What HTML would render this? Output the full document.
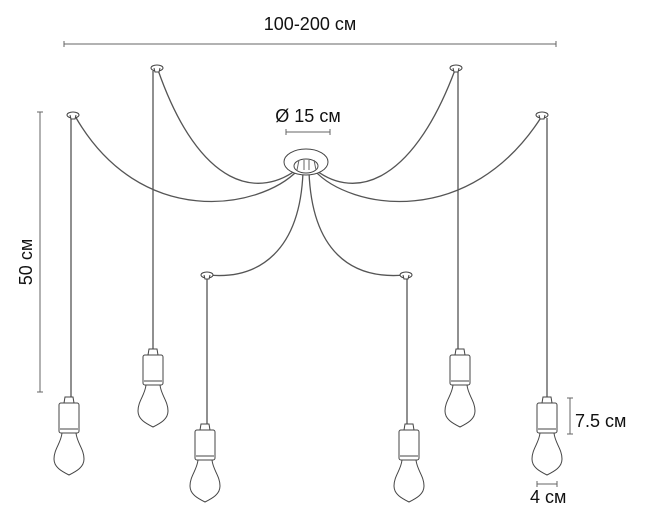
<!DOCTYPE html>
<html><head><style>html,body{margin:0;padding:0;background:#fff}svg{display:block}</style></head><body>
<svg width="655" height="521" viewBox="0 0 655 521" xmlns="http://www.w3.org/2000/svg">
<defs>
<g id="b" fill="#fff" stroke="#444" stroke-width="1">
<path d="M-4,-6 L4,-6 L5,0 L-5,0 Z"/>
<rect x="-10" y="0" width="20" height="30" rx="2"/>
<path d="M-9,26 L9,26"/>
<path d="M-7,30 C-8,40 -15,46 -15,56 C-15,64 -8,68 0,72 C8,68 15,64 15,56 C15,46 8,40 7,30 Z"/>
</g>
<g id="c" fill="#fff" stroke="#444" stroke-width="1">
<ellipse cx="0" cy="0" rx="6" ry="3"/>
<path d="M-3,0 L-2,4 L2,4 L3,0"/>
</g>
</defs>
<g fill="none" stroke="#555" stroke-width="1.3">
<line x1="71" y1="118" x2="71" y2="397"/>
<line x1="153" y1="71" x2="153" y2="349"/>
<line x1="207" y1="278" x2="207" y2="424"/>
<line x1="407" y1="278" x2="407" y2="424"/>
<line x1="458" y1="71" x2="458" y2="349"/>
<line x1="547" y1="118" x2="547" y2="397"/>
<path d="M298,170 C260,210 140,230 75,116"/>
<path d="M300,167 C260,200 200,190 158,70"/>
<path d="M303,172 C300,250 260,280 208,275"/>
<path d="M309,172 C312,250 350,280 405,275"/>
<path d="M312,167 C350,200 410,190 455,70"/>
<path d="M314,170 C350,210 470,230 542,116"/>
</g>
<g fill="#fff" stroke="#444" stroke-width="1">
<ellipse cx="306" cy="162" rx="22" ry="13"/>
<ellipse cx="306" cy="166" rx="12" ry="7"/>
</g>
<g stroke="#666" stroke-width="1" fill="none">
<path d="M299,160 l-2,10 M304,160 l0,10 M309,160 l0,10 M314,160 l2,10"/>
</g>
<use href="#c" x="157" y="68"/><use href="#c" x="456" y="68"/>
<use href="#c" x="73" y="115"/><use href="#c" x="542" y="115"/>
<use href="#c" x="207" y="275"/><use href="#c" x="406" y="275"/>
<use href="#b" x="69" y="403"/>
<use href="#b" x="153" y="355"/>
<use href="#b" x="205" y="430"/>
<use href="#b" x="409" y="430"/>
<use href="#b" x="460" y="355"/>
<use href="#b" x="547" y="403"/>
<g stroke="#666" stroke-width="1">
<line x1="64" y1="44" x2="556" y2="44"/><line x1="64" y1="41" x2="64" y2="47"/><line x1="556" y1="41" x2="556" y2="47"/>
<line x1="40" y1="112" x2="40" y2="392"/><line x1="37" y1="112" x2="43" y2="112"/><line x1="37" y1="392" x2="43" y2="392"/>
<line x1="286" y1="132" x2="330" y2="132"/><line x1="286" y1="129" x2="286" y2="135"/><line x1="330" y1="129" x2="330" y2="135"/>
<line x1="570" y1="398" x2="570" y2="434"/><line x1="567" y1="398" x2="573" y2="398"/><line x1="567" y1="434" x2="573" y2="434"/>
<line x1="537" y1="484" x2="557" y2="484"/><line x1="537" y1="481" x2="537" y2="487"/><line x1="557" y1="481" x2="557" y2="487"/>
</g>
<g font-family="Liberation Sans, sans-serif" font-size="18" fill="#111">
<text x="310" y="30" text-anchor="middle">100-200 см</text>
<text x="308" y="122" text-anchor="middle">Ø 15 см</text>
<text transform="translate(32,262) rotate(-90)" text-anchor="middle">50 см</text>
<text x="575" y="427">7.5 см</text>
<text x="530" y="503">4 см</text>
</g>
</svg>
</body></html>
